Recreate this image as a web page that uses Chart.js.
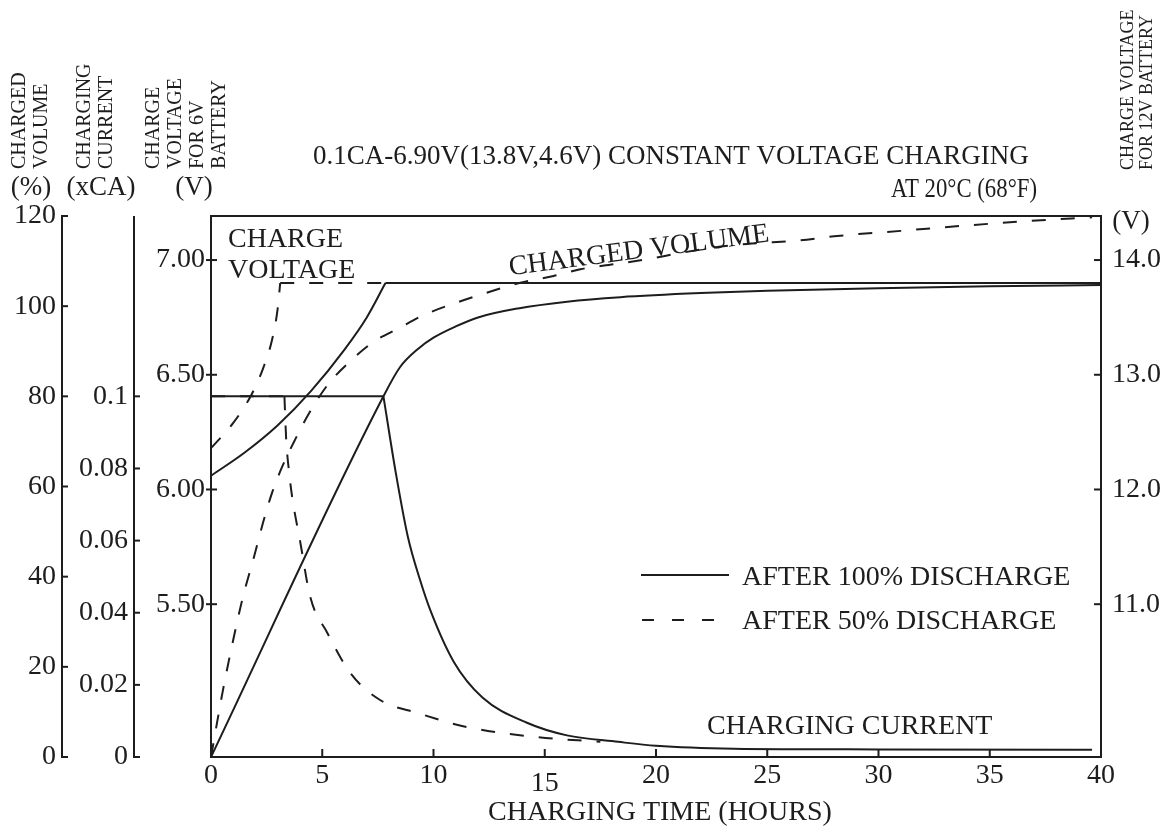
<!DOCTYPE html>
<html>
<head>
<meta charset="utf-8">
<script src="https://cdn.jsdelivr.net/npm/chart.js@4/dist/chart.umd.min.js"></script>
<style>
  html, body { margin: 0; padding: 0; background: #ffffff; }
  canvas { display: block; }
</style>
</head>
<body>
<canvas id="chart" width="1176" height="829"></canvas>
<script>
// ---- tick values ----
const hourTicks = [0, 5, 10, 15, 20, 25, 30, 35, 40];
const volumeTicks = [0, 20, 40, 60, 80, 100, 120];
const currentTicks = [0, 0.02, 0.04, 0.06, 0.08, 0.1];
const currentTickLabels = ['0', '0.02', '0.04', '0.06', '0.08', '0.1'];
const volt6Ticks = [5.5, 6.0, 6.5, 7.0];
const volt6TickLabels = ['5.50', '6.00', '6.50', '7.00'];
const volt12Ticks = [11, 12, 13, 14];
const volt12TickLabels = ['11.0', '12.0', '13.0', '14.0'];

// ---- after 100% discharge (solid) ----
const volt100Hours = [0, 1.5, 3, 4.5, 6, 7, 7.84];
const volt100 = [6.06, 6.16, 6.28, 6.43, 6.61, 6.75, 6.90];
const float100Hours = [7.84, 40];
const float100 = [6.90, 6.90];

const cc100Hours = [0, 7.75];
const cc100 = [0.1, 0.1];
const taper100Hours = [7.75, 8.3, 8.85, 9.4, 9.9, 10.9, 12.2, 14.2, 16, 18.3, 20, 23.5, 30, 39.6];
const taper100 = [0.1, 0.079, 0.061, 0.049, 0.040, 0.0265, 0.0165, 0.0095, 0.006, 0.0042, 0.0031, 0.0023, 0.0021, 0.0020];

const vol100Hours = [0, 7.75, 8.5, 9.3, 10, 11, 12, 13.8, 16, 18.4, 22, 25, 30, 35, 40];
const vol100 = [0, 80, 86.5, 90.5, 93, 95.5, 97.5, 99.5, 101, 102, 102.9, 103.4, 104, 104.4, 104.7];

// ---- after 50% discharge (dashed) ----
const volt50Hours = [0, 1.0, 1.8, 2.35, 2.75, 3.0, 3.11];
const volt50 = [6.18, 6.29, 6.41, 6.53, 6.655, 6.79, 6.90];
const float50Hours = [3.11, 40];
const float50 = [6.90, 6.90];

const cc50Hours = [0, 3.3];
const cc50 = [0.1, 0.1];
const taper50Hours = [3.3, 3.38, 3.51, 3.65, 4.0, 4.46, 5.23, 6.26, 7.6, 9.28, 11.5, 14.5, 17.5];
const taper50 = [0.1, 0.088, 0.079, 0.072, 0.060, 0.0444, 0.0344, 0.0233, 0.0158, 0.0122, 0.0083, 0.0056, 0.0042];

const vol50Hours = [0, 0.54, 1.0, 1.44, 1.9, 2.34, 2.75, 3.2, 3.78, 4.46, 5.27, 6.26, 7.34, 8.4, 9.55, 11.1, 12.6, 13.9, 15.4, 16.6, 18.1, 19.6, 21.1, 22.6, 24.1, 26.5, 28, 31, 33.7, 36.8, 39.6];
const vol50 = [0, 14.9, 26, 35.6, 43.8, 52, 58.7, 64.4, 70.4, 76.7, 82.7, 87.8, 92.2, 95, 98, 100.9, 103.3, 105.2, 106.7, 108.2, 109.3, 110.4, 111.8, 113, 113.8, 114.6, 115.5, 116.7, 117.8, 118.9, 119.7];

// ---- look ----
const ink = '#1d1d1d';
const serif = '"Liberation Serif", "DejaVu Serif", serif';
const dash = [14, 15];

function pts(xs, ys) { return xs.map((x, i) => ({ x: x, y: ys[i] })); }

function series(xs, ys, axis, dashed) {
  return {
    data: pts(xs, ys),
    yAxisID: axis,
    borderColor: ink,
    borderWidth: 2,
    borderDash: dashed ? dash : [],
    pointRadius: 0,
    fill: false,
    cubicInterpolationMode: 'monotone'
  };
}

function text(ctx, s, x, y, o) {
  o = Object.assign({ size: 28, align: 'left', baseline: 'middle', angle: 0 }, o || {});
  ctx.save();
  ctx.font = o.size + 'px ' + serif;
  ctx.fillStyle = ink;
  ctx.textAlign = o.align;
  ctx.textBaseline = o.baseline;
  ctx.translate(x, y);
  if (o.angle) ctx.rotate(o.angle * Math.PI / 180);
  if (o.maxWidth) ctx.fillText(s, 0, 0, o.maxWidth); else ctx.fillText(s, 0, 0);
  ctx.restore();
}

function seg(ctx, x1, y1, x2, y2) {
  ctx.beginPath(); ctx.moveTo(x1, y1); ctx.lineTo(x2, y2); ctx.stroke();
}

// axes, frame, legend and annotations
const decorations = {
  id: 'decorations',
  afterDraw(chart) {
    const { ctx, chartArea: a, scales: s } = chart;
    ctx.save();
    ctx.strokeStyle = ink;
    ctx.lineWidth = 2;
    ctx.lineCap = 'butt';

    // plot frame
    ctx.strokeRect(a.left, a.top, a.right - a.left, a.bottom - a.top);

    // time axis (ticks point into the plot)
    const lowered = { 15: 8 };
    hourTicks.forEach(h => {
      const x = s.x.getPixelForValue(h);
      seg(ctx, x, a.bottom, x, a.bottom - 8);
      text(ctx, String(h), x, a.bottom + 19 + (lowered[h] || 0), { align: 'center' });
    });
    text(ctx, 'CHARGING TIME (HOURS)', 660, 813, { align: 'center' });

    // charged volume axis (outermost left)
    const volX = 62;
    seg(ctx, volX, s.yVol.getPixelForValue(120), volX, s.yVol.getPixelForValue(0));
    volumeTicks.forEach(v => {
      const y = s.yVol.getPixelForValue(v);
      seg(ctx, volX - 1, y, volX + 6, y);
      text(ctx, String(v), volX - 6, y, { align: 'right' });
    });

    // charging current axis
    const curX = 134;
    seg(ctx, curX, s.yCur.getPixelForValue(0.15), curX, s.yCur.getPixelForValue(0));
    currentTicks.forEach((c, i) => {
      const y = s.yCur.getPixelForValue(c);
      seg(ctx, curX - 1, y, curX + 6, y);
      text(ctx, currentTickLabels[i], curX - 6, y, { align: 'right' });
    });

    // 6V battery voltage axis (plot left edge)
    volt6Ticks.forEach((v, i) => {
      const y = s.yV6.getPixelForValue(v);
      seg(ctx, a.left - 5, y, a.left + 6, y);
      text(ctx, volt6TickLabels[i], a.left - 6, y, { align: 'right' });
    });

    // 12V battery voltage axis (plot right edge)
    volt12Ticks.forEach((v, i) => {
      const y = s.yV12.getPixelForValue(v);
      seg(ctx, a.right - 7, y, a.right, y);
      text(ctx, volt12TickLabels[i], a.right + 11, y, { align: 'left' });
    });

    // axis headers
    const hdr = { size: 20, angle: -90, align: 'left' };
    text(ctx, 'CHARGED', 20, 169, hdr);
    text(ctx, 'VOLUME', 42, 169, hdr);
    text(ctx, 'CHARGING', 85, 169, hdr);
    text(ctx, 'CURRENT', 107, 169, hdr);
    text(ctx, 'CHARGE', 154, 169, hdr);
    text(ctx, 'VOLTAGE', 176, 169, hdr);
    text(ctx, 'FOR 6V', 198, 169, hdr);
    text(ctx, 'BATTERY', 220, 169, hdr);
    text(ctx, '(%)', 31, 188, { size: 27, align: 'center' });
    text(ctx, '(xCA)', 101, 188, { size: 27, align: 'center' });
    text(ctx, '(V)', 194, 188, { size: 27, align: 'center' });

    const hdrR = { size: 18, angle: -90, align: 'left' };
    text(ctx, 'CHARGE VOLTAGE', 1128, 170, hdrR);
    text(ctx, 'FOR 12V BATTERY', 1147, 170, hdrR);
    text(ctx, '(V)', 1131, 222, { size: 27, align: 'center' });

    // chart heading
    text(ctx, '0.1CA-6.90V(13.8V,4.6V) CONSTANT VOLTAGE CHARGING', 313, 157, { size: 27, maxWidth: 722 });
    text(ctx, 'AT 20°C (68°F)', 1037, 190, { size: 27, align: 'right', maxWidth: 146 });

    // curve annotations
    text(ctx, 'CHARGE', 228, 240);
    text(ctx, 'VOLTAGE', 228, 271);
    text(ctx, 'CHARGED VOLUME', 639, 251, { align: 'center', angle: -7.4 });
    text(ctx, 'CHARGING CURRENT', 707, 727);

    // legend
    seg(ctx, 641, 575, 729, 575);
    ctx.setLineDash([12, 18]);
    seg(ctx, 642, 620, 716, 620);
    ctx.setLineDash([]);
    text(ctx, 'AFTER 100% DISCHARGE', 742, 578);
    text(ctx, 'AFTER 50% DISCHARGE', 742, 622);

    ctx.restore();
  }
};

new Chart(document.getElementById('chart'), {
  type: 'line',
  data: {
    datasets: [
      series(volt100Hours, volt100, 'yV6', false),
      series(float100Hours, float100, 'yV6', false),
      series(cc100Hours, cc100, 'yCur', false),
      series(taper100Hours, taper100, 'yCur', false),
      series(vol100Hours, vol100, 'yVol', false),
      series(volt50Hours, volt50, 'yV6', true),
      series(float50Hours, float50, 'yV6', true),
      series(cc50Hours, cc50, 'yCur', true),
      series(taper50Hours, taper50, 'yCur', true),
      series(vol50Hours, vol50, 'yVol', true)
    ]
  },
  options: {
    responsive: false,
    animation: false,
    devicePixelRatio: 1,
    layout: { padding: { left: 211, right: 75, top: 216, bottom: 72 } },
    plugins: { legend: { display: false }, title: { display: false }, tooltip: { enabled: false } },
    scales: {
      x: { type: 'linear', min: 0, max: 40, display: false },
      yVol: { type: 'linear', min: 0, max: 120, display: false },
      yCur: { type: 'linear', min: 0, max: 0.15, display: false },
      yV6: { type: 'linear', min: 4.834, max: 7.192, display: false },
      yV12: { type: 'linear', min: 9.668, max: 14.384, display: false }
    }
  },
  plugins: [decorations]
});
</script>
</body>
</html>
